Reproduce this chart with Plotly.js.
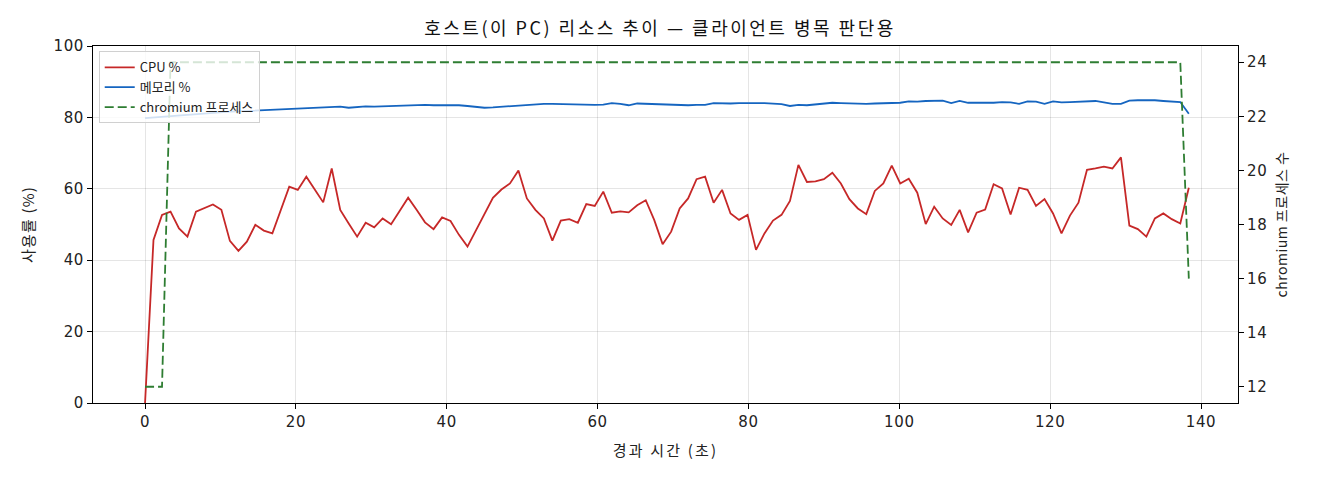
<!DOCTYPE html>
<html>
<head>
<meta charset="utf-8">
<script src="https://cdn.plot.ly/plotly-3.0.1.min.js"></script>
<style>
    html, body { margin: 0; padding: 0; background: #fff; }
    #plotly-chart { width: 1320px; height: 480px; }
    /* the reference font is wider than anything installed, so space the glyphs out a bit */
    #plotly-chart .gtitle { letter-spacing: 2.5px; }
    #plotly-chart .xtitle { letter-spacing: 2.2px; }
    #plotly-chart .ytitle { letter-spacing: 1.2px; }
    #plotly-chart .y2title { letter-spacing: 0.5px; }
    #plotly-chart .xtick text, #plotly-chart .ytick text, #plotly-chart .y2tick text { letter-spacing: 0.6px; }
</style>
</head>
<body>
<div id="plotly-chart"></div>
<script>
// elapsed seconds of each sample
const elapsedSec = [
    0, 1.12, 2.25, 3.38, 4.5, 5.62, 6.75, 7.88, 9, 10.12, 11.25, 12.38, 13.5, 14.62, 15.75, 16.88,
    18, 19.12, 20.25, 21.38, 22.5, 23.62, 24.75, 25.88, 27, 28.12, 29.25, 30.38, 31.5, 32.62, 33.75, 34.88,
    36, 37.12, 38.25, 39.38, 40.5, 41.62, 42.75, 43.88, 45, 46.12, 47.25, 48.38, 49.5, 50.62, 51.75, 52.88,
    54, 55.12, 56.25, 57.38, 58.5, 59.62, 60.75, 61.88, 63, 64.12, 65.25, 66.38, 67.5, 68.62, 69.75, 70.88,
    72, 73.12, 74.25, 75.38, 76.5, 77.62, 78.75, 79.88, 81, 82.12, 83.25, 84.38, 85.5, 86.62, 87.75, 88.88,
    90, 91.12, 92.25, 93.38, 94.5, 95.62, 96.75, 97.88, 99, 100.12, 101.25, 102.38, 103.5, 104.62, 105.75, 106.88,
    108, 109.12, 110.25, 111.38, 112.5, 113.62, 114.75, 115.88, 117, 118.12, 119.25, 120.38, 121.5, 122.62, 123.75, 124.88,
    126, 127.12, 128.25, 129.38, 130.5, 131.62, 132.75, 133.88, 135, 136.12, 137.25, 138.38,
];

const cpuPct = [
    0, 45.7, 52.7, 53.6, 48.9, 46.6, 53.6, 54.7, 55.6, 54.1, 45.4, 42.6, 45.2, 49.9, 48.3, 47.5,
    53.9, 60.6, 59.7, 63.4, 59.8, 56.2, 65.7, 54.1, 50.3, 46.6, 50.5, 49.2, 51.7, 50.1, 53.8, 57.5,
    54.1, 50.6, 48.7, 52.0, 51.0, 47.1, 43.8, 48.3, 52.7, 57.5, 59.8, 61.5, 65.1, 57.3, 54.1, 51.7,
    45.5, 51.1, 51.5, 50.5, 55.7, 55.2, 59.2, 53.3, 53.7, 53.4, 55.4, 56.8, 51.3, 44.5, 48.0, 54.5,
    57.3, 62.7, 63.4, 56.1, 59.7, 53.1, 51.3, 52.7, 42.9, 47.5, 51.1, 52.7, 56.6, 66.7, 61.9, 62.1,
    62.7, 64.5, 61.5, 57.1, 54.5, 52.9, 59.4, 61.5, 66.5, 61.5, 62.8, 58.9, 50.1, 55.0, 51.7, 49.9,
    54.1, 47.8, 53.3, 54.2, 61.3, 60.1, 52.8, 60.3, 59.7, 55.2, 57.1, 53.1, 47.5, 52.5, 56.1, 65.3,
    65.7, 66.2, 65.7, 68.8, 49.7, 48.7, 46.6, 51.7, 53.1, 51.5, 50.3, 60.3,
];

const memPct = [
    79.8, 80.0, 80.2, 80.4, 80.6, 80.8, 81.0, 81.2, 81.3, 81.5, 81.6, 81.7, 81.8, 81.9, 82.0, 82.1,
    82.2, 82.3, 82.4, 82.5, 82.6, 82.8, 82.9, 83.0, 82.7, 83.0, 83.1, 83.0, 83.1, 83.0, 83.2, 83.3,
    83.3, 83.5, 83.4, 83.4, 83.5, 83.4, 83.2, 82.9, 82.7, 82.8, 83.0, 83.2, 83.2, 83.5, 83.7, 83.8,
    83.8, 83.7, 83.6, 83.6, 83.5, 83.5, 83.6, 84.0, 83.8, 83.4, 83.9, 83.8, 83.8, 83.7, 83.5, 83.3,
    83.4, 83.5, 83.5, 84.0, 83.9, 83.9, 84.0, 84.1, 84.0, 84.0, 83.8, 83.7, 83.2, 83.5, 83.4, 83.6,
    83.9, 84.1, 84.0, 83.9, 83.9, 83.8, 83.9, 83.9, 84.0, 84.1, 84.5, 84.4, 84.6, 84.6, 84.7, 84.0,
    84.6, 84.1, 84.1, 84.0, 84.1, 84.3, 84.2, 83.8, 84.5, 84.4, 83.8, 84.5, 84.2, 84.3, 84.4, 84.5,
    84.6, 84.2, 83.8, 83.8, 84.7, 84.8, 84.9, 84.8, 84.6, 84.4, 84.3, 81.0,
];

const chromiumCount = [
    12, 12, 12, 24, 24, 24, 24, 24, 24, 24, 24, 24, 24, 24, 24, 24,
    24, 24, 24, 24, 24, 24, 24, 24, 24, 24, 24, 24, 24, 24, 24, 24,
    24, 24, 24, 24, 24, 24, 24, 24, 24, 24, 24, 24, 24, 24, 24, 24,
    24, 24, 24, 24, 24, 24, 24, 24, 24, 24, 24, 24, 24, 24, 24, 24,
    24, 24, 24, 24, 24, 24, 24, 24, 24, 24, 24, 24, 24, 24, 24, 24,
    24, 24, 24, 24, 24, 24, 24, 24, 24, 24, 24, 24, 24, 24, 24, 24,
    24, 24, 24, 24, 24, 24, 24, 24, 24, 24, 24, 24, 24, 24, 24, 24,
    24, 24, 24, 24, 24, 24, 24, 24, 24, 24, 24, 16,
];

const xTicks = [0, 20, 40, 60, 80, 100, 120, 140];
const yTicks = [0, 20, 40, 60, 80, 100];
const y2Ticks = [12, 14, 16, 18, 20, 22, 24];

const FONT = '"DejaVu Sans", "Noto Sans CJK KR", sans-serif';
const HANGUL_FONT = '"Noto Sans CJK KR", "DejaVu Sans", sans-serif';

async function drawChart() {
    const cpuTrace = {
        x: elapsedSec,
        y: cpuPct,
        type: 'scatter',
        mode: 'lines',
        name: 'CPU %',
        line: { color: '#c62828', width: 1.8 },
    };

    const memTrace = {
        x: elapsedSec,
        y: memPct,
        type: 'scatter',
        mode: 'lines',
        name: '메모리 %',
        line: { color: '#1565c0', width: 1.8 },
    };

    const chromiumTrace = {
        x: elapsedSec,
        y: chromiumCount,
        type: 'scatter',
        mode: 'lines',
        name: 'chromium 프로세스',
        yaxis: 'y2',
        line: { color: '#2e7d32', width: 1.8, dash: '9px,4px' },
    };

    const data = [cpuTrace, memTrace, chromiumTrace];

    const layout = {
        width: 1320,
        height: 480,
        paper_bgcolor: '#ffffff',
        plot_bgcolor: '#ffffff',
        margin: { t: 46, r: 82, b: 77, l: 93 },
        font: { family: FONT, size: 14, color: '#222' },
        showlegend: true,

        title: {
            text: '호스트(이 PC) 리소스 추이 — 클라이언트 병목 판단용',
            font: { family: HANGUL_FONT, size: 18, color: '#111' },
            x: 0.5,
            xanchor: 'center',
            y: 0.94,
            yanchor: 'middle',
        },

        legend: {
            x: 0.005,
            y: 0.985,
            xanchor: 'left',
            yanchor: 'top',
            bgcolor: 'rgba(255, 255, 255, 0.8)',
            bordercolor: '#d0d0d0',
            borderwidth: 1,
            font: { family: HANGUL_FONT, size: 13, color: '#222' },
        },

        xaxis: {
            range: [-6.9, 144.9],
            tickvals: xTicks,
            ticktext: xTicks.map(String),
            tickfont: { family: FONT, size: 15, color: '#222' },
            ticks: 'outside',
            ticklen: 5,
            tickcolor: '#000',
            showline: true,
            linecolor: '#000',
            linewidth: 1,
            mirror: true,
            showgrid: true,
            gridcolor: 'rgba(0, 0, 0, 0.1)',
            zeroline: false,
            title: { text: '경과 시간 (초)', font: { family: HANGUL_FONT, size: 15 }, standoff: 15 },
        },
        yaxis: {
            range: [0, 100],
            tickvals: yTicks,
            ticktext: yTicks.map(String),
            tickfont: { family: FONT, size: 15, color: '#222' },
            ticks: 'outside',
            ticklen: 5,
            tickcolor: '#000',
            showline: true,
            linecolor: '#000',
            linewidth: 1,
            showgrid: true,
            gridcolor: 'rgba(0, 0, 0, 0.1)',
            zeroline: false,
            title: { text: '사용률 (%)', font: { family: HANGUL_FONT, size: 15 }, standoff: 17 },
        },
        yaxis2: {
            overlaying: 'y',
            side: 'right',
            range: [11.4, 24.6],
            tickvals: y2Ticks,
            ticktext: y2Ticks.map(String),
            tickfont: { family: FONT, size: 15, color: '#222' },
            ticks: 'outside',
            ticklen: 5,
            tickcolor: '#000',
            showline: true,
            linecolor: '#000',
            linewidth: 1,
            showgrid: false,
            zeroline: false,
            title: { text: 'chromium 프로세스 수', font: { family: HANGUL_FONT, size: 14 }, standoff: 12 },
        },
    };

    const config = {
        responsive: false,
        displayModeBar: false,
        staticPlot: true,
    };

    await Plotly.newPlot('plotly-chart', data, layout, config);
}

drawChart();
</script>
</body>
</html>
